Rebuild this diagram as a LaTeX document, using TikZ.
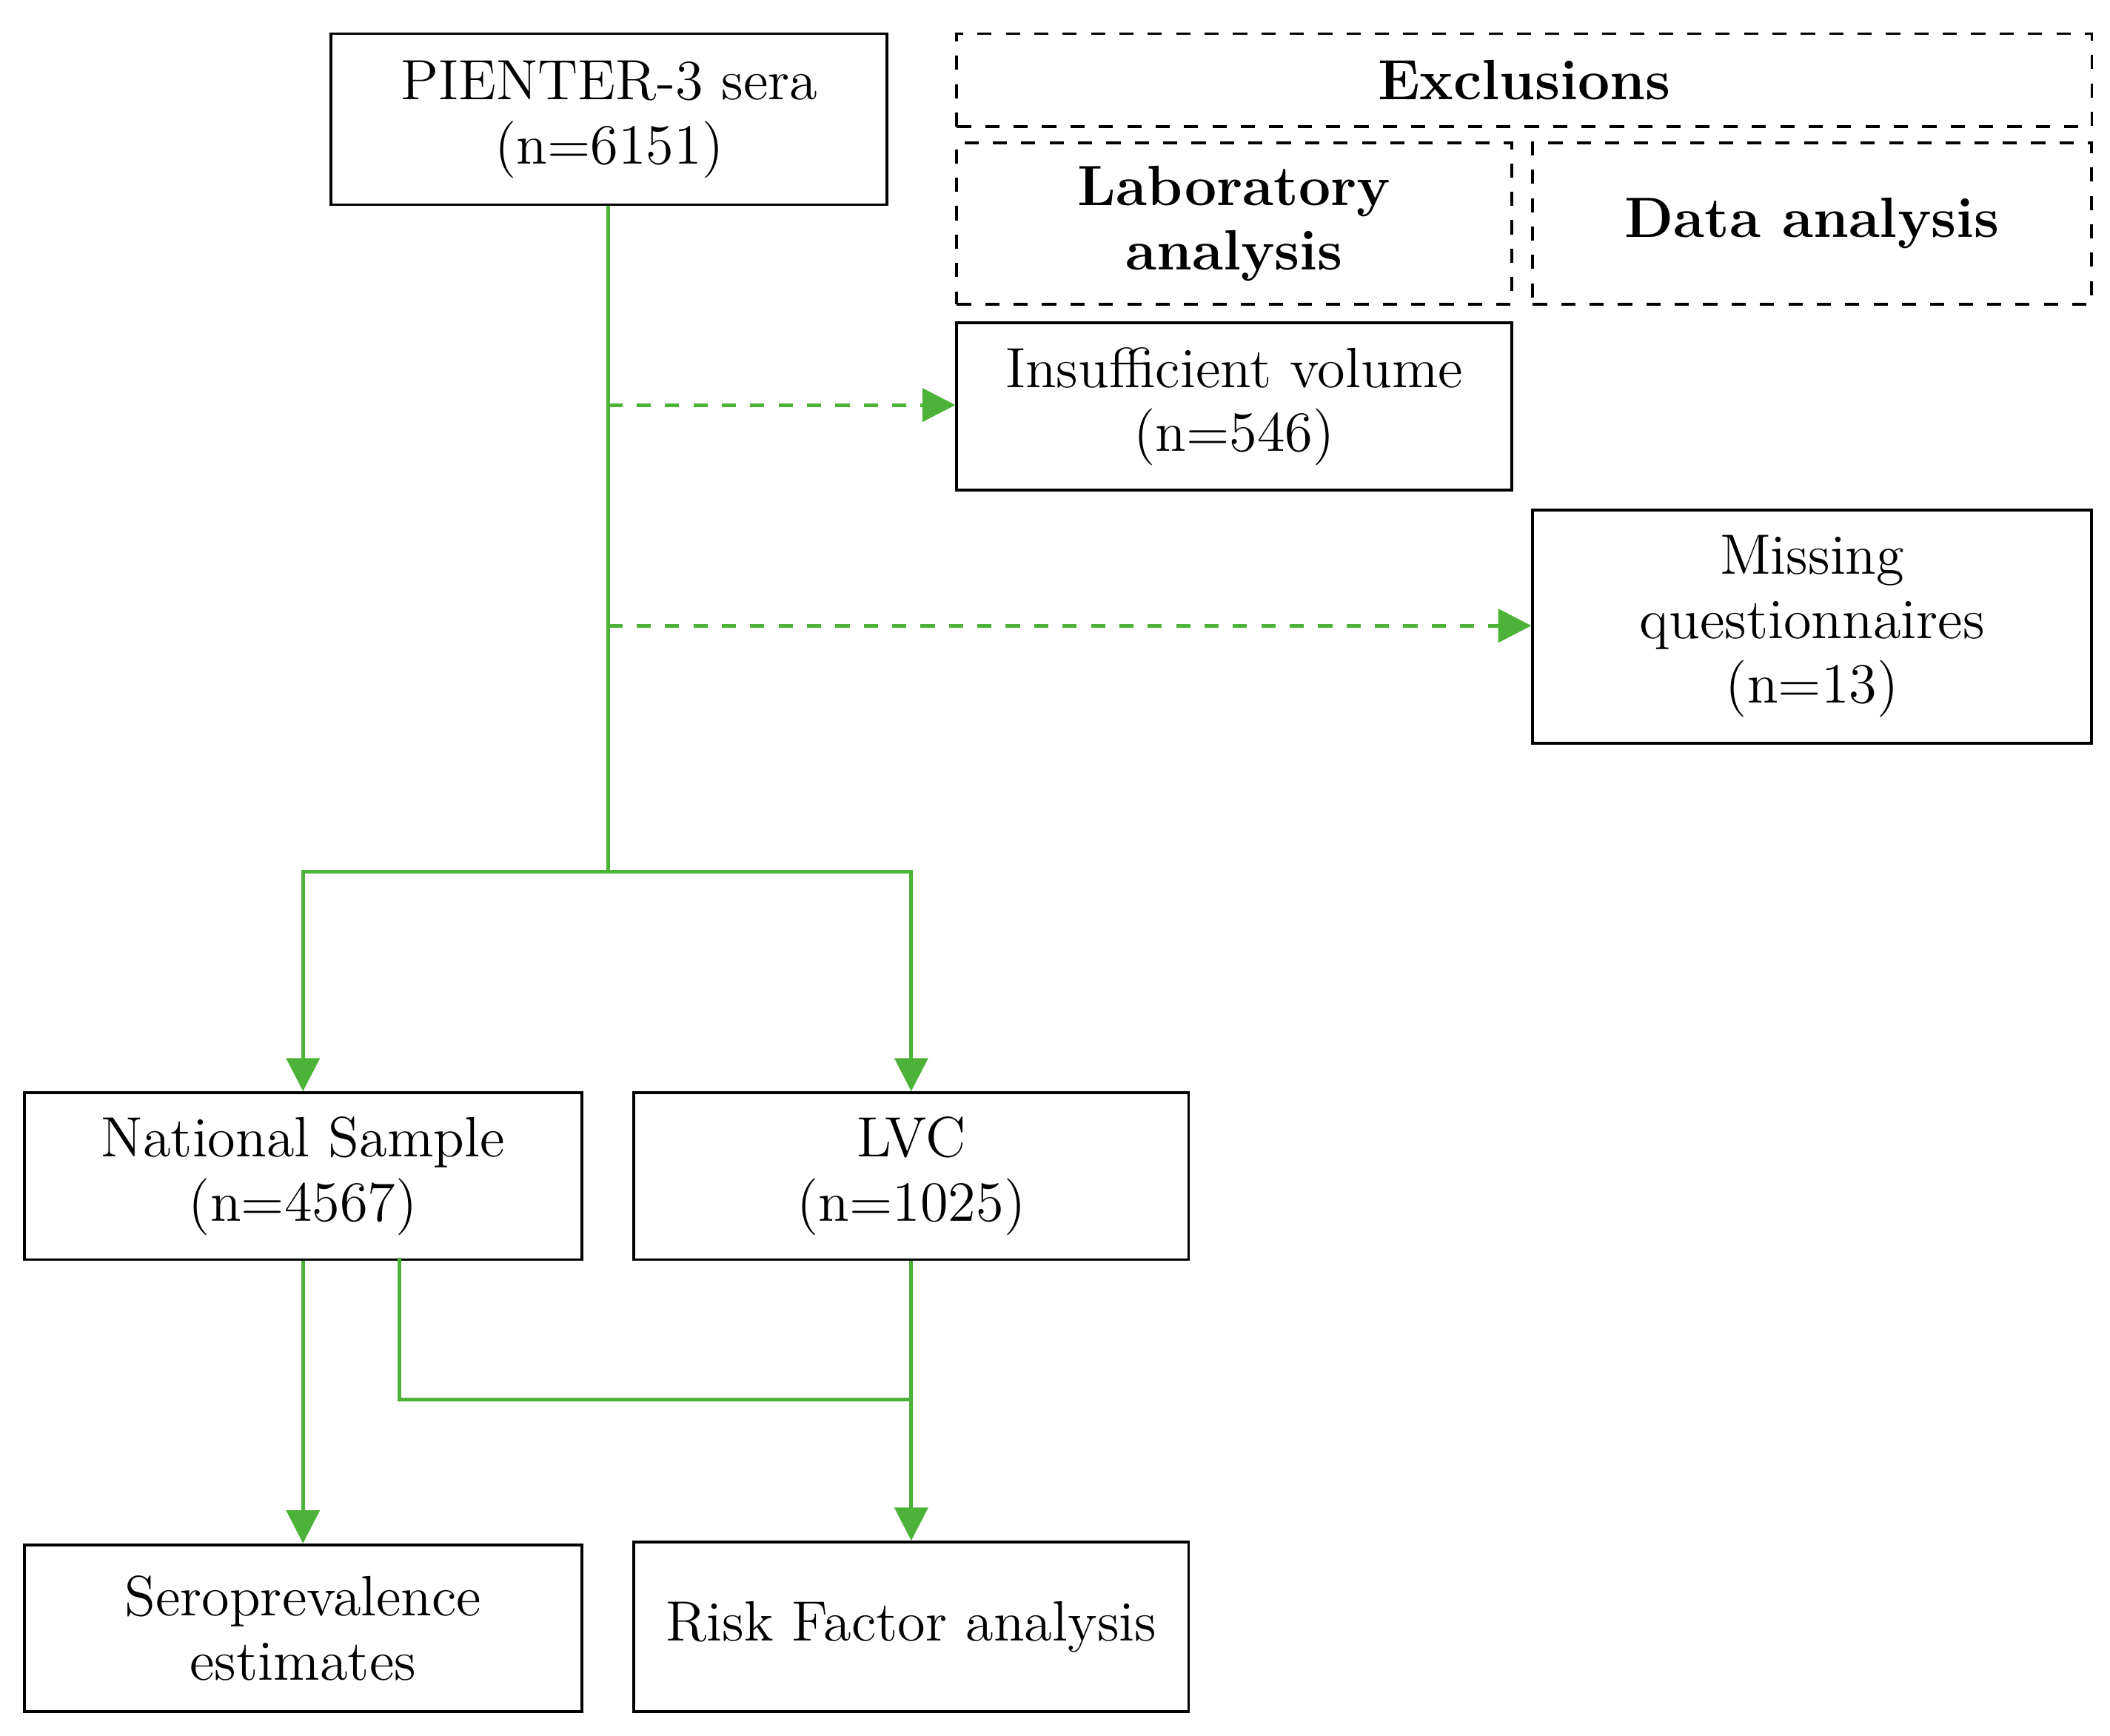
\documentclass[tikz,border=0pt]{standalone}
\usetikzlibrary{arrows.meta}
\definecolor{gr}{RGB}{76,178,56}
\begin{document}
\begin{tikzpicture}[x=0.01cm,y=-0.01cm,
  box/.style={draw,line width=0.6pt,minimum height=#1,align=center,font=\fontsize{12}{13.6}\selectfont,anchor=north west,inner sep=1pt},
  dbox/.style={box=#1,dashed},
  gl/.style={draw=gr,line width=0.8pt},
  ar/.style={gl,-{Triangle[length=7pt,width=7pt]}},
  da/.style={ar,dashed}]
\useasboundingbox (0,0) rectangle (1568,1290);
\node[box=1.27cm,minimum width=4.13cm] (p) at (245,24) {PIENTER-3 sera\\(n=6151)};
\node[dbox=0.69cm,minimum width=8.43cm,font=\fontsize{12}{13.6}\selectfont\bfseries] (ex) at (710,24) {Exclusions};
\node[dbox=1.2cm,minimum width=4.12cm,font=\fontsize{12}{13.6}\selectfont\bfseries] (la) at (710,105) {Laboratory\\analysis};
\node[dbox=1.2cm,minimum width=4.15cm,font=\fontsize{12}{13.6}\selectfont\bfseries] (da) at (1138,105) {Data analysis};
\node[box=1.24cm,minimum width=4.12cm] (iv) at (710,239) {Insufficient volume\\(n=546)};
\node[box=1.73cm,minimum width=4.15cm] (mq) at (1138,378) {Missing\\questionnaires\\(n=13)};
\node[box=1.24cm,minimum width=4.14cm] (ns) at (17,811) {National Sample\\(n=4567)};
\node[box=1.24cm,minimum width=4.12cm] (lvc) at (470,811) {LVC\\(n=1025)};
\node[box=1.24cm,minimum width=4.14cm] (se) at (17,1147) {Seroprevalence\\estimates};
\node[box=1.26cm,minimum width=4.12cm] (rf) at (470,1145) {Risk Factor analysis};
\coordinate (j) at (452,648);
\coordinate (d1) at (452,301);
\coordinate (d2) at (452,465);
\coordinate (k) at (677,1040);
\path[gl] (p.south -| j) -- (j);
\path[da] (d1) -- (iv.west |- d1);
\path[da] (d2) -- (mq.west |- d2);
\path[ar] (j) -| (ns.north);
\path[ar] (j) -| (lvc.north);
\path[ar] (ns.south) -- (se.north);
\path[gl] (297,935) -- (297,1040) -- (k);
\path[ar] (lvc.south) -- (rf.north);
\end{tikzpicture}
\end{document}
